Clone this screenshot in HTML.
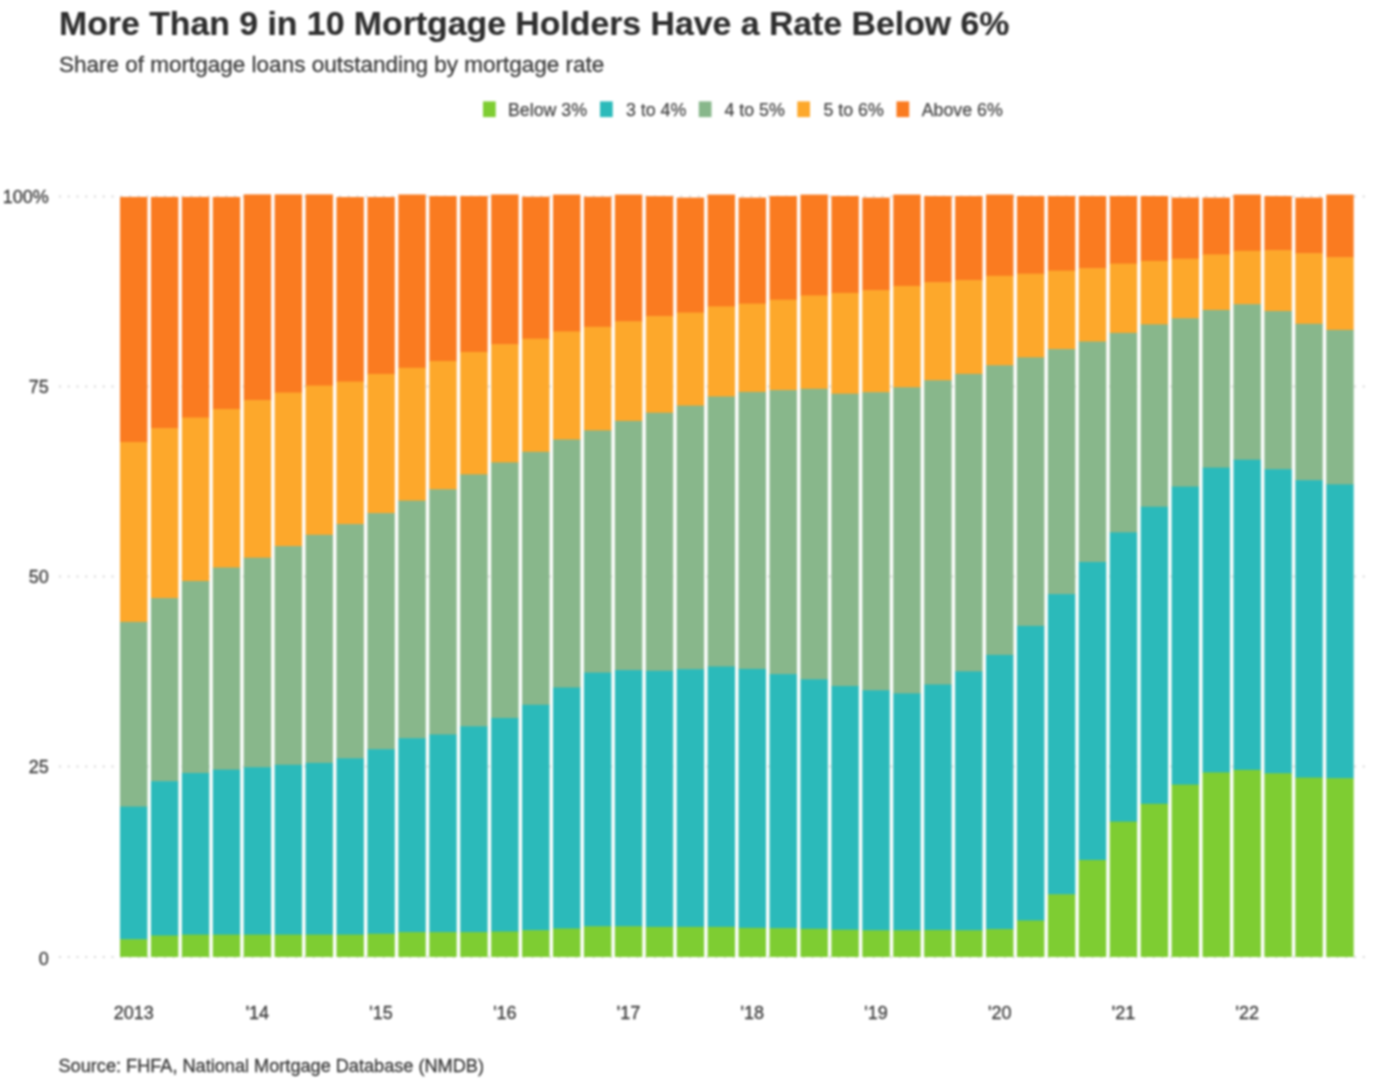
<!DOCTYPE html>
<html><head><meta charset="utf-8"><title>Mortgage rates</title>
<style>
html,body{margin:0;padding:0;background:#fff;}
body{width:1375px;height:1088px;overflow:hidden;font-family:"Liberation Sans",sans-serif;}
svg{display:block;filter:blur(0.9px);}
text{font-family:"Liberation Sans",sans-serif;}
.title{font-size:33.8px;font-weight:bold;fill:#2e2e2e;stroke:#2e2e2e;stroke-width:0.15px;}
.sub{font-size:22.5px;fill:#3d3d3d;stroke:#3d3d3d;stroke-width:0.3px;}
.ax{font-size:18px;fill:#3a3a3a;stroke:#3a3a3a;stroke-width:0.3px;}
.lg{font-size:17.8px;fill:#474747;stroke:#474747;stroke-width:0.25px;}
.src{font-size:18.15px;fill:#3a3a3a;stroke:#3a3a3a;stroke-width:0.3px;}
</style></head><body>
<svg width="1375" height="1088" viewBox="0 0 1375 1088">
<rect width="1375" height="1088" fill="#fff"/>
<text id="title" x="59" y="34.9" class="title">More Than 9 in 10 Mortgage Holders Have a Rate Below 6%</text>
<text id="sub" x="59" y="71.6" class="sub">Share of mortgage loans outstanding by mortgage rate</text>
<g id="legend"><rect x="483" y="101.4" width="12.7" height="15.7" fill="#7ECD32"/><text x="508" y="116.4" class="lg">Below 3%</text><rect x="600" y="101.4" width="12.7" height="15.7" fill="#2BBABA"/><text x="626" y="116.4" class="lg">3 to 4%</text><rect x="698.8" y="101.4" width="12.7" height="15.7" fill="#88B78B"/><text x="724.5" y="116.4" class="lg">4 to 5%</text><rect x="797.3" y="101.4" width="12.7" height="15.7" fill="#FDA82B"/><text x="823.5" y="116.4" class="lg">5 to 6%</text><rect x="896.5" y="101.4" width="12.7" height="15.7" fill="#FA7B20"/><text x="921.7" y="116.4" class="lg">Above 6%</text></g>
<g id="grid"><line x1="59" x2="1366" y1="196.5" y2="196.5" stroke="#d9d9d9" stroke-width="2" stroke-dasharray="2 6.75"/><line x1="59" x2="1366" y1="386.5" y2="386.5" stroke="#d9d9d9" stroke-width="2" stroke-dasharray="2 6.75"/><line x1="59" x2="1366" y1="576.5" y2="576.5" stroke="#d9d9d9" stroke-width="2" stroke-dasharray="2 6.75"/><line x1="59" x2="1366" y1="766.5" y2="766.5" stroke="#d9d9d9" stroke-width="2" stroke-dasharray="2 6.75"/><line x1="59" x2="1366" y1="957" y2="957" stroke="#d9d9d9" stroke-width="2" stroke-dasharray="2 6.75"/></g>
<g id="bars"><rect x="120.00" y="196.9" width="27.4" height="245.7" fill="#FA7B20"/><rect x="120.00" y="442.0" width="27.4" height="180.5" fill="#FDA82B"/><rect x="120.00" y="621.9" width="27.4" height="185.3" fill="#88B78B"/><rect x="120.00" y="806.6" width="27.4" height="133.2" fill="#2BBABA"/><rect x="120.00" y="939.2" width="27.4" height="17.8" fill="#7ECD32"/><rect x="150.93" y="196.9" width="27.4" height="231.9" fill="#FA7B20"/><rect x="150.93" y="428.2" width="27.4" height="170.5" fill="#FDA82B"/><rect x="150.93" y="598.1" width="27.4" height="183.7" fill="#88B78B"/><rect x="150.93" y="781.2" width="27.4" height="154.9" fill="#2BBABA"/><rect x="150.93" y="935.5" width="27.4" height="21.5" fill="#7ECD32"/><rect x="181.86" y="196.9" width="27.4" height="221.2" fill="#FA7B20"/><rect x="181.86" y="417.5" width="27.4" height="164.1" fill="#FDA82B"/><rect x="181.86" y="581.0" width="27.4" height="192.6" fill="#88B78B"/><rect x="181.86" y="773.0" width="27.4" height="162.2" fill="#2BBABA"/><rect x="181.86" y="934.6" width="27.4" height="22.4" fill="#7ECD32"/><rect x="212.79" y="196.9" width="27.4" height="212.7" fill="#FA7B20"/><rect x="212.79" y="409.0" width="27.4" height="159.1" fill="#FDA82B"/><rect x="212.79" y="567.5" width="27.4" height="202.7" fill="#88B78B"/><rect x="212.79" y="769.6" width="27.4" height="165.6" fill="#2BBABA"/><rect x="212.79" y="934.6" width="27.4" height="22.4" fill="#7ECD32"/><rect x="243.72" y="194.4" width="27.4" height="206.3" fill="#FA7B20"/><rect x="243.72" y="400.1" width="27.4" height="158.2" fill="#FDA82B"/><rect x="243.72" y="557.7" width="27.4" height="210.1" fill="#88B78B"/><rect x="243.72" y="767.2" width="27.4" height="168.0" fill="#2BBABA"/><rect x="243.72" y="934.6" width="27.4" height="22.4" fill="#7ECD32"/><rect x="274.65" y="194.4" width="27.4" height="198.7" fill="#FA7B20"/><rect x="274.65" y="392.5" width="27.4" height="154.2" fill="#FDA82B"/><rect x="274.65" y="546.1" width="27.4" height="219.3" fill="#88B78B"/><rect x="274.65" y="764.8" width="27.4" height="170.4" fill="#2BBABA"/><rect x="274.65" y="934.6" width="27.4" height="22.4" fill="#7ECD32"/><rect x="305.58" y="194.4" width="27.4" height="191.7" fill="#FA7B20"/><rect x="305.58" y="385.5" width="27.4" height="149.9" fill="#FDA82B"/><rect x="305.58" y="534.8" width="27.4" height="228.7" fill="#88B78B"/><rect x="305.58" y="762.9" width="27.4" height="172.3" fill="#2BBABA"/><rect x="305.58" y="934.6" width="27.4" height="22.4" fill="#7ECD32"/><rect x="336.51" y="197.0" width="27.4" height="185.1" fill="#FA7B20"/><rect x="336.51" y="381.5" width="27.4" height="143.2" fill="#FDA82B"/><rect x="336.51" y="524.1" width="27.4" height="234.8" fill="#88B78B"/><rect x="336.51" y="758.3" width="27.4" height="176.9" fill="#2BBABA"/><rect x="336.51" y="934.6" width="27.4" height="22.4" fill="#7ECD32"/><rect x="367.44" y="197.0" width="27.4" height="177.5" fill="#FA7B20"/><rect x="367.44" y="373.9" width="27.4" height="139.8" fill="#FDA82B"/><rect x="367.44" y="513.1" width="27.4" height="236.7" fill="#88B78B"/><rect x="367.44" y="749.2" width="27.4" height="185.1" fill="#2BBABA"/><rect x="367.44" y="933.7" width="27.4" height="23.3" fill="#7ECD32"/><rect x="398.37" y="194.5" width="27.4" height="173.9" fill="#FA7B20"/><rect x="398.37" y="367.8" width="27.4" height="133.4" fill="#FDA82B"/><rect x="398.37" y="500.6" width="27.4" height="238.2" fill="#88B78B"/><rect x="398.37" y="738.2" width="27.4" height="194.5" fill="#2BBABA"/><rect x="398.37" y="932.1" width="27.4" height="24.9" fill="#7ECD32"/><rect x="429.30" y="196.0" width="27.4" height="165.6" fill="#FA7B20"/><rect x="429.30" y="361.0" width="27.4" height="128.9" fill="#FDA82B"/><rect x="429.30" y="489.3" width="27.4" height="245.8" fill="#88B78B"/><rect x="429.30" y="734.5" width="27.4" height="198.2" fill="#2BBABA"/><rect x="429.30" y="932.1" width="27.4" height="24.9" fill="#7ECD32"/><rect x="460.23" y="196.0" width="27.4" height="156.5" fill="#FA7B20"/><rect x="460.23" y="351.9" width="27.4" height="123.1" fill="#FDA82B"/><rect x="460.23" y="474.4" width="27.4" height="252.5" fill="#88B78B"/><rect x="460.23" y="726.3" width="27.4" height="206.4" fill="#2BBABA"/><rect x="460.23" y="932.1" width="27.4" height="24.9" fill="#7ECD32"/><rect x="491.16" y="194.5" width="27.4" height="150.3" fill="#FA7B20"/><rect x="491.16" y="344.2" width="27.4" height="118.8" fill="#FDA82B"/><rect x="491.16" y="462.4" width="27.4" height="256.2" fill="#88B78B"/><rect x="491.16" y="718.0" width="27.4" height="214.1" fill="#2BBABA"/><rect x="491.16" y="931.5" width="27.4" height="25.5" fill="#7ECD32"/><rect x="522.09" y="196.7" width="27.4" height="142.6" fill="#FA7B20"/><rect x="522.09" y="338.7" width="27.4" height="113.7" fill="#FDA82B"/><rect x="522.09" y="451.8" width="27.4" height="253.6" fill="#88B78B"/><rect x="522.09" y="704.8" width="27.4" height="226.0" fill="#2BBABA"/><rect x="522.09" y="930.2" width="27.4" height="26.8" fill="#7ECD32"/><rect x="553.02" y="194.6" width="27.4" height="137.4" fill="#FA7B20"/><rect x="553.02" y="331.4" width="27.4" height="108.7" fill="#FDA82B"/><rect x="553.02" y="439.5" width="27.4" height="248.6" fill="#88B78B"/><rect x="553.02" y="687.5" width="27.4" height="241.6" fill="#2BBABA"/><rect x="553.02" y="928.5" width="27.4" height="28.5" fill="#7ECD32"/><rect x="583.95" y="196.7" width="27.4" height="130.7" fill="#FA7B20"/><rect x="583.95" y="326.8" width="27.4" height="104.2" fill="#FDA82B"/><rect x="583.95" y="430.4" width="27.4" height="242.8" fill="#88B78B"/><rect x="583.95" y="672.6" width="27.4" height="254.3" fill="#2BBABA"/><rect x="583.95" y="926.3" width="27.4" height="30.7" fill="#7ECD32"/><rect x="614.88" y="194.6" width="27.4" height="127.3" fill="#FA7B20"/><rect x="614.88" y="321.3" width="27.4" height="100.2" fill="#FDA82B"/><rect x="614.88" y="420.9" width="27.4" height="249.8" fill="#88B78B"/><rect x="614.88" y="670.1" width="27.4" height="256.8" fill="#2BBABA"/><rect x="614.88" y="926.3" width="27.4" height="30.7" fill="#7ECD32"/><rect x="645.81" y="196.1" width="27.4" height="120.6" fill="#FA7B20"/><rect x="645.81" y="316.1" width="27.4" height="97.2" fill="#FDA82B"/><rect x="645.81" y="412.7" width="27.4" height="258.7" fill="#88B78B"/><rect x="645.81" y="670.8" width="27.4" height="256.7" fill="#2BBABA"/><rect x="645.81" y="926.9" width="27.4" height="30.1" fill="#7ECD32"/><rect x="676.74" y="197.6" width="27.4" height="115.5" fill="#FA7B20"/><rect x="676.74" y="312.5" width="27.4" height="93.7" fill="#FDA82B"/><rect x="676.74" y="405.6" width="27.4" height="264.2" fill="#88B78B"/><rect x="676.74" y="669.2" width="27.4" height="258.3" fill="#2BBABA"/><rect x="676.74" y="926.9" width="27.4" height="30.1" fill="#7ECD32"/><rect x="707.67" y="194.6" width="27.4" height="112.4" fill="#FA7B20"/><rect x="707.67" y="306.4" width="27.4" height="90.7" fill="#FDA82B"/><rect x="707.67" y="396.5" width="27.4" height="270.6" fill="#88B78B"/><rect x="707.67" y="666.5" width="27.4" height="261.0" fill="#2BBABA"/><rect x="707.67" y="926.9" width="27.4" height="30.1" fill="#7ECD32"/><rect x="738.60" y="197.6" width="27.4" height="106.6" fill="#FA7B20"/><rect x="738.60" y="303.6" width="27.4" height="88.9" fill="#FDA82B"/><rect x="738.60" y="391.9" width="27.4" height="277.6" fill="#88B78B"/><rect x="738.60" y="668.9" width="27.4" height="259.6" fill="#2BBABA"/><rect x="738.60" y="927.9" width="27.4" height="29.1" fill="#7ECD32"/><rect x="769.53" y="196.0" width="27.4" height="104.3" fill="#FA7B20"/><rect x="769.53" y="299.7" width="27.4" height="91.0" fill="#FDA82B"/><rect x="769.53" y="390.1" width="27.4" height="284.6" fill="#88B78B"/><rect x="769.53" y="674.1" width="27.4" height="254.7" fill="#2BBABA"/><rect x="769.53" y="928.2" width="27.4" height="28.8" fill="#7ECD32"/><rect x="800.46" y="194.6" width="27.4" height="101.4" fill="#FA7B20"/><rect x="800.46" y="295.4" width="27.4" height="94.0" fill="#FDA82B"/><rect x="800.46" y="388.8" width="27.4" height="291.1" fill="#88B78B"/><rect x="800.46" y="679.3" width="27.4" height="250.1" fill="#2BBABA"/><rect x="800.46" y="928.8" width="27.4" height="28.2" fill="#7ECD32"/><rect x="831.39" y="196.0" width="27.4" height="97.5" fill="#FA7B20"/><rect x="831.39" y="292.9" width="27.4" height="101.4" fill="#FDA82B"/><rect x="831.39" y="393.7" width="27.4" height="292.9" fill="#88B78B"/><rect x="831.39" y="686.0" width="27.4" height="244.3" fill="#2BBABA"/><rect x="831.39" y="929.7" width="27.4" height="27.3" fill="#7ECD32"/><rect x="862.32" y="197.6" width="27.4" height="93.2" fill="#FA7B20"/><rect x="862.32" y="290.2" width="27.4" height="102.6" fill="#FDA82B"/><rect x="862.32" y="392.2" width="27.4" height="298.7" fill="#88B78B"/><rect x="862.32" y="690.3" width="27.4" height="240.6" fill="#2BBABA"/><rect x="862.32" y="930.3" width="27.4" height="26.7" fill="#7ECD32"/><rect x="893.25" y="194.6" width="27.4" height="91.9" fill="#FA7B20"/><rect x="893.25" y="285.9" width="27.4" height="102.0" fill="#FDA82B"/><rect x="893.25" y="387.3" width="27.4" height="306.7" fill="#88B78B"/><rect x="893.25" y="693.4" width="27.4" height="237.5" fill="#2BBABA"/><rect x="893.25" y="930.3" width="27.4" height="26.7" fill="#7ECD32"/><rect x="924.18" y="196.0" width="27.4" height="86.8" fill="#FA7B20"/><rect x="924.18" y="282.2" width="27.4" height="98.7" fill="#FDA82B"/><rect x="924.18" y="380.3" width="27.4" height="304.8" fill="#88B78B"/><rect x="924.18" y="684.5" width="27.4" height="246.1" fill="#2BBABA"/><rect x="924.18" y="930.0" width="27.4" height="27.0" fill="#7ECD32"/><rect x="955.11" y="196.0" width="27.4" height="84.7" fill="#FA7B20"/><rect x="955.11" y="280.1" width="27.4" height="94.4" fill="#FDA82B"/><rect x="955.11" y="373.9" width="27.4" height="298.1" fill="#88B78B"/><rect x="955.11" y="671.4" width="27.4" height="259.5" fill="#2BBABA"/><rect x="955.11" y="930.3" width="27.4" height="26.7" fill="#7ECD32"/><rect x="986.04" y="194.6" width="27.4" height="81.8" fill="#FA7B20"/><rect x="986.04" y="275.8" width="27.4" height="90.1" fill="#FDA82B"/><rect x="986.04" y="365.3" width="27.4" height="290.2" fill="#88B78B"/><rect x="986.04" y="654.9" width="27.4" height="274.8" fill="#2BBABA"/><rect x="986.04" y="929.1" width="27.4" height="27.9" fill="#7ECD32"/><rect x="1016.97" y="196.0" width="27.4" height="78.3" fill="#FA7B20"/><rect x="1016.97" y="273.7" width="27.4" height="84.3" fill="#FDA82B"/><rect x="1016.97" y="357.4" width="27.4" height="269.1" fill="#88B78B"/><rect x="1016.97" y="625.9" width="27.4" height="295.2" fill="#2BBABA"/><rect x="1016.97" y="920.5" width="27.4" height="36.5" fill="#7ECD32"/><rect x="1047.90" y="196.0" width="27.4" height="75.2" fill="#FA7B20"/><rect x="1047.90" y="270.6" width="27.4" height="79.1" fill="#FDA82B"/><rect x="1047.90" y="349.1" width="27.4" height="245.6" fill="#88B78B"/><rect x="1047.90" y="594.1" width="27.4" height="300.8" fill="#2BBABA"/><rect x="1047.90" y="894.3" width="27.4" height="62.7" fill="#7ECD32"/><rect x="1078.83" y="196.0" width="27.4" height="72.8" fill="#FA7B20"/><rect x="1078.83" y="268.2" width="27.4" height="73.9" fill="#FDA82B"/><rect x="1078.83" y="341.5" width="27.4" height="221.1" fill="#88B78B"/><rect x="1078.83" y="562.0" width="27.4" height="298.6" fill="#2BBABA"/><rect x="1078.83" y="860.0" width="27.4" height="97.0" fill="#7ECD32"/><rect x="1109.76" y="196.0" width="27.4" height="68.2" fill="#FA7B20"/><rect x="1109.76" y="263.6" width="27.4" height="69.9" fill="#FDA82B"/><rect x="1109.76" y="332.9" width="27.4" height="200.1" fill="#88B78B"/><rect x="1109.76" y="532.4" width="27.4" height="289.8" fill="#2BBABA"/><rect x="1109.76" y="821.6" width="27.4" height="135.4" fill="#7ECD32"/><rect x="1140.69" y="196.0" width="27.4" height="65.5" fill="#FA7B20"/><rect x="1140.69" y="260.9" width="27.4" height="64.1" fill="#FDA82B"/><rect x="1140.69" y="324.4" width="27.4" height="182.9" fill="#88B78B"/><rect x="1140.69" y="506.7" width="27.4" height="297.7" fill="#2BBABA"/><rect x="1140.69" y="803.8" width="27.4" height="153.2" fill="#7ECD32"/><rect x="1171.62" y="197.6" width="27.4" height="61.7" fill="#FA7B20"/><rect x="1171.62" y="258.7" width="27.4" height="60.2" fill="#FDA82B"/><rect x="1171.62" y="318.3" width="27.4" height="168.9" fill="#88B78B"/><rect x="1171.62" y="486.6" width="27.4" height="298.6" fill="#2BBABA"/><rect x="1171.62" y="784.6" width="27.4" height="172.4" fill="#7ECD32"/><rect x="1202.55" y="197.6" width="27.4" height="57.4" fill="#FA7B20"/><rect x="1202.55" y="254.4" width="27.4" height="56.2" fill="#FDA82B"/><rect x="1202.55" y="310.0" width="27.4" height="158.2" fill="#88B78B"/><rect x="1202.55" y="467.6" width="27.4" height="305.4" fill="#2BBABA"/><rect x="1202.55" y="772.4" width="27.4" height="184.6" fill="#7ECD32"/><rect x="1233.48" y="194.6" width="27.4" height="56.8" fill="#FA7B20"/><rect x="1233.48" y="250.8" width="27.4" height="54.0" fill="#FDA82B"/><rect x="1233.48" y="304.2" width="27.4" height="156.1" fill="#88B78B"/><rect x="1233.48" y="459.7" width="27.4" height="310.8" fill="#2BBABA"/><rect x="1233.48" y="769.9" width="27.4" height="187.1" fill="#7ECD32"/><rect x="1264.41" y="196.0" width="27.4" height="54.8" fill="#FA7B20"/><rect x="1264.41" y="250.2" width="27.4" height="61.4" fill="#FDA82B"/><rect x="1264.41" y="311.0" width="27.4" height="158.8" fill="#88B78B"/><rect x="1264.41" y="469.2" width="27.4" height="304.7" fill="#2BBABA"/><rect x="1264.41" y="773.3" width="27.4" height="183.7" fill="#7ECD32"/><rect x="1295.34" y="197.6" width="27.4" height="56.2" fill="#FA7B20"/><rect x="1295.34" y="253.2" width="27.4" height="71.2" fill="#FDA82B"/><rect x="1295.34" y="323.8" width="27.4" height="157.0" fill="#88B78B"/><rect x="1295.34" y="480.2" width="27.4" height="298.0" fill="#2BBABA"/><rect x="1295.34" y="777.6" width="27.4" height="179.4" fill="#7ECD32"/><rect x="1326.27" y="194.6" width="27.4" height="63.2" fill="#FA7B20"/><rect x="1326.27" y="257.2" width="27.4" height="73.3" fill="#FDA82B"/><rect x="1326.27" y="329.9" width="27.4" height="155.1" fill="#88B78B"/><rect x="1326.27" y="484.4" width="27.4" height="294.4" fill="#2BBABA"/><rect x="1326.27" y="778.2" width="27.4" height="178.8" fill="#7ECD32"/></g>
<g id="ylab"><text x="48.8" y="203.4" text-anchor="end" class="ax">100%</text><text x="48.8" y="393.4" text-anchor="end" class="ax">75</text><text x="48.8" y="583.4" text-anchor="end" class="ax">50</text><text x="48.8" y="773.4" text-anchor="end" class="ax">25</text><text x="48.8" y="964.9" text-anchor="end" class="ax">0</text></g>
<g id="xlab"><text x="133.7" y="1018.8" text-anchor="middle" class="ax">2013</text><text x="257.4" y="1018.8" text-anchor="middle" class="ax">'14</text><text x="381.1" y="1018.8" text-anchor="middle" class="ax">'15</text><text x="504.9" y="1018.8" text-anchor="middle" class="ax">'16</text><text x="628.6" y="1018.8" text-anchor="middle" class="ax">'17</text><text x="752.3" y="1018.8" text-anchor="middle" class="ax">'18</text><text x="876.0" y="1018.8" text-anchor="middle" class="ax">'19</text><text x="999.7" y="1018.8" text-anchor="middle" class="ax">'20</text><text x="1123.5" y="1018.8" text-anchor="middle" class="ax">'21</text><text x="1247.2" y="1018.8" text-anchor="middle" class="ax">'22</text></g>
<text id="src" x="58.5" y="1071.8" class="src">Source: FHFA, National Mortgage Database (NMDB)</text>
</svg>
</body></html>
